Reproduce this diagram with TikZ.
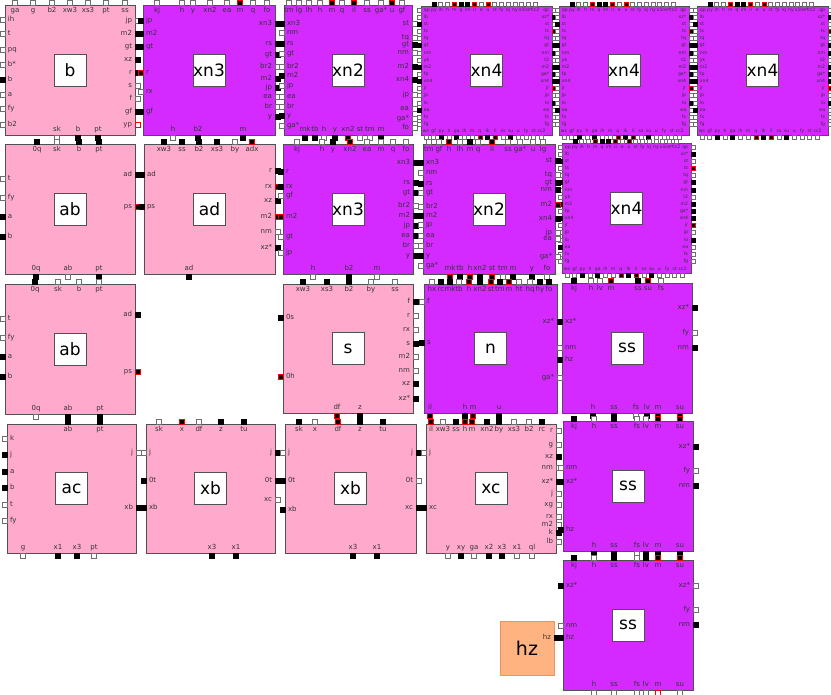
\documentclass[tikz,border=0pt]{standalone}
\usepackage{fontspec}
\setmainfont{DejaVu Sans}
\definecolor{pinkc}{RGB}{255,170,204}
\definecolor{purpc}{RGB}{212,42,255}
\definecolor{hzc}{RGB}{255,179,128}
\definecolor{hzbord}{RGB}{230,150,100}
\definecolor{bordc}{RGB}{80,80,80}
\definecolor{sqg}{RGB}{110,110,110}
\newcounter{pcnt}
\def\sqs{5}
\newcommand\portLx[4]{\stepcounter{pcnt}%
  \filldraw[sq#4] ({#1-\sqs},{#2-\sqs/2}) rectangle ++(\sqs,\sqs);%
  \node[plab,anchor=west] (p\arabic{pcnt}) at ({#1+2.5},{#2}) {#3};}
\newcommand\portRx[4]{\stepcounter{pcnt}%
  \filldraw[sq#4] ({#1},{#2-\sqs/2}) rectangle ++(\sqs,\sqs);%
  \node[plab,anchor=east] (p\arabic{pcnt}) at ({#1-2.5},{#2}) {#3};}
\newcommand\portTx[4]{\stepcounter{pcnt}%
  \filldraw[sq#4] ({#2-\sqs/2},{#1-\sqs}) rectangle ++(\sqs,\sqs);%
  \node[plab,anchor=north] (p\arabic{pcnt}) at ({#2},{#1+1.5}) {#3};}
\newcommand\portBx[4]{\stepcounter{pcnt}%
  \filldraw[sq#4] ({#2-\sqs/2},{#1}) rectangle ++(\sqs,\sqs);%
  \node[plab,anchor=south] (p\arabic{pcnt}) at ({#2},{#1-1.5}) {#3};}
\newcommand\portL[4]{\edef\tmpP{\noexpand\portLx{#1}{#2}{#3}{#4}}\tmpP}
\newcommand\portR[4]{\edef\tmpP{\noexpand\portRx{#1}{#2}{#3}{#4}}\tmpP}
\newcommand\portT[4]{\edef\tmpP{\noexpand\portTx{#1}{#2}{#3}{#4}}\tmpP}
\newcommand\portB[4]{\edef\tmpP{\noexpand\portBx{#1}{#2}{#3}{#4}}\tmpP}
\newcommand\mkblk[7]{%
  \node[blk, fill=#6, minimum width={#4-#2}, minimum height={#5-#3}] (#1) at (#2,#3) {};
  \node[lbox] (#1l) at (#1.center) {#7};}
\newcommand\xnfour[4]{%
\begin{scope}[plab/.style={font=\fontsize{4.6}{4.6}\selectfont, inner sep=0.2pt, text height=3.4pt, text depth=1pt, text=black!80}]
\def\sqs{4}%
\foreach \la/\ca [count=\i from 0] in {py/k,ih/w,h/w,m/R,q/k,im/k,il/R,e/w,u/R,st/w,fy/w,kj/w,ny/w,x1/w,ne*/w,cc2/w}{\portT{#2}{#1+13+6.75*\i}{\la}{\ca}}
\foreach \la/\ca [count=\i from 0] in {qp/w,lb/w,st/k,ts/w,tq/w,gt/k,nm/w,yk/w,m2/k,fp/w,xn4/k,jr/w,jp/w,lo/w,ea/k,fx/w,fg/w}{\portL{#1}{#2+4+7.15*\i}{\la}{\ca}}
\foreach \la/\ca [count=\i from 0] in {qp/w,xz*/k,st/w,ts/R,tq/w,gt/k,nm/k,t2/w,m2/k,ga*/k,xn4/k,jr/R,jp/w,lo/k,ea/w,fx/w,fg/w}{\portR{#3}{#2+4+7.15*\i}{\la}{\ca}}
\foreach \la/\ca [count=\i from 0] in {ws/w,gf/w,py/k,h/w,ga/k,ih/w,m/w,q/R,lk/k,il/R,ss/w,su/k,u/w,fy/w,st/w,cc2/w}{\portB{#4}{#1+5+7.7*\i}{\la}{\ca}}
\end{scope}}
\begin{document}
\begin{tikzpicture}[x=1pt,y=-1pt,
  plab/.style={font=\fontsize{7}{7}\selectfont, inner sep=0.3pt, text height=5.2pt, text depth=1.5pt, text=black!80},
  sqw/.style={fill=white, draw=sqg, line width=0.7pt},
  sqk/.style={fill=black, draw=black, line width=0.7pt},
  sqr/.style={fill=white, draw=red, line width=0.7pt},
  sqR/.style={fill=black, draw=red, line width=0.7pt},
  blk/.style={draw=bordc, line width=0.8pt, inner sep=0pt, outer sep=0pt, anchor=north west},
  lbox/.style={draw=bordc, fill=white, line width=0.8pt, minimum size=32, inner sep=0pt, font=\fontsize{17}{17}\selectfont}]
\useasboundingbox (0,0) rectangle (831,695);
% ---------------- blocks
\mkblk{B1}{5}{5}{135}{135}{pinkc}{b}
\mkblk{B2}{143}{5}{275}{135}{purpc}{xn3}
\mkblk{B3}{284}{5}{412}{135}{purpc}{xn2}
\mkblk{B4}{421}{6}{552}{135}{purpc}{xn4}
\mkblk{B5}{559}{6}{689}{135}{purpc}{xn4}
\mkblk{B6}{697}{6}{828}{135}{purpc}{xn4}
\mkblk{B7}{5}{144}{135}{274}{pinkc}{ab}
\mkblk{B8}{144}{144}{275}{274}{pinkc}{ad}
\mkblk{B9}{283}{144}{413}{274}{purpc}{xn3}
\mkblk{B10}{423}{144}{555}{274}{purpc}{xn2}
\mkblk{B11}{562}{143}{691}{273}{purpc}{xn4}
\mkblk{B12}{5}{284}{135}{414}{pinkc}{ab}
\mkblk{B13}{283}{284}{413}{413}{pinkc}{s}
\mkblk{B14}{424}{284}{557}{413}{purpc}{n}
\mkblk{B15}{562}{283}{692}{413}{purpc}{ss}
\mkblk{B16}{7}{424}{136}{553}{pinkc}{ac}
\mkblk{B17}{146}{424}{275}{553}{pinkc}{xb}
\mkblk{B18}{285}{424}{416}{553}{pinkc}{xb}
\mkblk{B19}{426}{424}{556}{553}{pinkc}{xc}
\mkblk{B20}{563}{421}{693}{551}{purpc}{ss}
\mkblk{B21}{563}{560}{693}{690}{purpc}{ss}
\node[blk, draw=hzbord, fill=hzc, minimum width=54, minimum height=54] (B22) at (500,621) {};
\node[font=\fontsize{19}{19}\selectfont, inner sep=0pt] (B22l) at (B22.center) {hz};
% ---------------- B1 b
\foreach \xa/\la/\ca in {15/ga/w,33/g/w,52/b2/w,70/xw3/w,88/xs3/w,106/pt/w,125/ss/w}{\portT{5}{\xa}{\la}{\ca}}
\foreach \ya/\la/\ca in {20/ih/w,34/t/w,50/pq/w,65/b*/w,80/b/k,95/a/w,109/fy/w,125/b2/w}{\portL{5}{\ya}{\la}{\ca}}
\foreach \ya/\la/\ca in {21/jp/w,34/m2/k,47/gt/k,60/xz/k,73/r/k,86/s/w,99/f/w,112/gf/k,125/yp/r}{\portR{135}{\ya}{\la}{\ca}}
\foreach \xa/\la/\ca in {57/sk/w,78/b/k,98/pt/k}{\portB{135}{\xa}{\la}{\ca}}
% ---------------- B2 xn3
\foreach \xa/\la/\ca in {157/kj/w,182/h/w,193/y/w,210/xn2/w,227/ea/w,240/m/R,253/q/w,267/fo/w}{\portT{5}{\xa}{\la}{\ca}}
\foreach \ya/\la/\ca in {21/jp/k,34/m2/k,47/gt/k,73/r/R,92/rx/w,112/gf/k}{\portL{143}{\ya}{\la}{\ca}}
\foreach \ya/\la/\ca in {24/xn3/k,44/rs/k,55/gt/k,67/br2/w,79/m2/k,88/jp/k,97/ea/w,107/br/w,117/y/k}{\portR{275}{\ya}{\la}{\ca}}
\foreach \xa/\la/\ca in {173/h/w,198/b2/k,243/m/k}{\portB{135}{\xa}{\la}{\ca}}
% ---------------- B3 xn2
\foreach \xa/\la/\ca in {289/tm/w,299/lg/w,309/lh/w,320/h/w,332/m/R,342/q/w,354/il/R,367/ss/w,381/ga*/w,392/u/R,402/gf/w}{\portT{5}{\xa}{\la}{\ca}}
\foreach \ya/\la/\ca in {24/xn3/k,33/nm/w,44/rs/k,54/gt/w,67/br2/w,76/m2/k,86/jp/w,97/ea/w,107/br/w,116/y/k,126/ga*/w}{\portL{284}{\ya}{\la}{\ca}}
\foreach \ya/\la/\ca in {24/st/w,38/tq/w,45/gt/k,53/nm/w,67/m2/k,80/xn4/k,95/jp/w,109/ea/w,119/ga*/w,128/fo/w}{\portR{412}{\ya}{\la}{\ca}}
\foreach \xa/\la/\ca in {305/mk/k,315/tb/k,324/h/w,335/y/k,348/xn2/R,360/st/w,370/tm/w,381/m/k}{\portB{135}{\xa}{\la}{\ca}}
% ---------------- xn4 blocks
\xnfour{421}{6}{552}{135}
\xnfour{559}{6}{689}{135}
\xnfour{697}{6}{828}{135}
\xnfour{562}{143}{691}{273}
% ---------------- B7 ab
\foreach \xa/\la/\ca in {37/0q/k,57/sk/w,79/b/k,99/pt/k}{\portT{144}{\xa}{\la}{\ca}}
\foreach \ya/\la/\ca in {179/t/w,198/fy/w,217/a/k,237/b/k}{\portL{5}{\ya}{\la}{\ca}}
\foreach \ya/\la/\ca in {175/ad/k,207/ps/R}{\portR{135}{\ya}{\la}{\ca}}
\foreach \xa/\la/\ca in {36/0q/k,68/ab/w,99/pt/k}{\portB{274}{\xa}{\la}{\ca}}
% ---------------- B8 ad
\foreach \xa/\la/\ca in {164/xw3/k,182/ss/k,199/b2/k,217/xs3/k,235/by/w,252/adx/R}{\portT{144}{\xa}{\la}{\ca}}
\foreach \ya/\la/\ca in {175/ad/k,207/ps/k}{\portL{144}{\ya}{\la}{\ca}}
\foreach \ya/\la/\ca in {171/r/k,187/rx/R,201/xz/k,217/m2/R,232/nm/w,248/xz*/k}{\portR{275}{\ya}{\la}{\ca}}
\foreach \xa/\la/\ca in {189/ad/k}{\portB{274}{\xa}{\la}{\ca}}
% ---------------- B9 xn3
\foreach \xa/\la/\ca in {297/kj/w,322/h/w,333/y/k,350/xn2/R,367/ea/w,381/m/w,393/q/w,406/fo/w}{\portT{144}{\xa}{\la}{\ca}}
\foreach \ya/\la/\ca in {172/r/k,187/rx/k,196/gf/w,217/m2/R,237/gt/w,253/jp/w}{\portL{283}{\ya}{\la}{\ca}}
\foreach \ya/\la/\ca in {163/xn3/k,183/rs/k,193/gt/k,206/br2/w,216/m2/k,226/jp/k,236/ea/k,246/br/w,256/y/k}{\portR{413}{\ya}{\la}{\ca}}
\foreach \xa/\la/\ca in {313/h/w,349/b2/k,377/m/w}{\portB{274}{\xa}{\la}{\ca}}
% ---------------- B10 xn2
\foreach \xa/\la/\ca in {429/tm/w,439/gf/w,449/h/R,460/lh/w,470/m/k,478/q/w,492/il/R,508/ss/w,520/ga*/w,533/u/w,543/lg/w}{\portT{144}{\xa}{\la}{\ca}}
\foreach \ya/\la/\ca in {163/xn3/k,173/nm/w,184/rs/k,193/gt/w,207/br2/w,216/m2/k,225/jp/w,236/ea/w,246/br/w,256/y/k,266/ga*/w}{\portL{423}{\ya}{\la}{\ca}}
\foreach \ya/\la/\ca in {161/st/k,175/tq/w,183/gt/k,190/nm/k,205/m2/R,219/xn4/k,233/jp/w,239/ea/w,257/ga*/w}{\portR{555}{\ya}{\la}{\ca}}
\foreach \xa/\la/\ca in {450/mk/R,460/tb/k,470/h/R,480/xn2/k,492/st/R,503/tm/w,513/m/k,532/y/k,547/fo/w}{\portB{274}{\xa}{\la}{\ca}}
% ---------------- B12 ab
\foreach \xa/\la/\ca in {35/0q/k,58/sk/w,79/b/w,99/pt/w}{\portT{284}{\xa}{\la}{\ca}}
\foreach \ya/\la/\ca in {319/t/w,338/fy/w,357/a/k,377/b/k}{\portL{5}{\ya}{\la}{\ca}}
\foreach \ya/\la/\ca in {315/ad/k,372/ps/R}{\portR{135}{\ya}{\la}{\ca}}
\foreach \xa/\la/\ca in {36/0q/w,68/ab/k,100/pt/k}{\portB{414}{\xa}{\la}{\ca}}
% ---------------- B13 s
\foreach \xa/\la/\ca in {303/xw3/k,327/xs3/k,349/b2/k,371/by/w,395/ss/w}{\portT{284}{\xa}{\la}{\ca}}
\foreach \ya/\la/\ca in {318/0s/k,377/0h/R}{\portL{283}{\ya}{\la}{\ca}}
\foreach \ya/\la/\ca in {302/f/k,316/r/w,330/rx/w,344/s/k,357/m2/w,371/nm/w,384/xz/k,399/xz*/k}{\portR{413}{\ya}{\la}{\ca}}
\foreach \xa/\la/\ca in {337/df/R,360/z/k}{\portB{413}{\xa}{\la}{\ca}}
% ---------------- B14 n
\foreach \xa/\la/\ca in {432/hx/w,441/rc/k,450/mk/k,459/tb/w,469/h/R,480/xn2/k,491/st/R,500/tm/k,509/m/R,519/ht/w,530/hq/w,540/hy/k,549/fo/k}{\portT{284}{\xa}{\la}{\ca}}
\foreach \ya/\la/\ca in {302/f/w,343/s/k}{\portL{424}{\ya}{\la}{\ca}}
\foreach \ya/\la/\ca in {322/xz*/k,378/ga*/w}{\portR{557}{\ya}{\la}{\ca}}
\foreach \xa/\la/\ca in {430/il/R,465/h/k,473/m/R,499/u/k}{\portB{413}{\xa}{\la}{\ca}}
% ---------------- B15 ss
\foreach \xa/\la/\ca in {574/kj/k,591/h/w,600/lv/w,611/m/R,638/ss/k,648/su/R,661/fs/w}{\portT{283}{\xa}{\la}{\ca}}
\foreach \ya/\la/\ca in {322/xz*/k,348/nm/w,360/hz/k}{\portL{562}{\ya}{\la}{\ca}}
\foreach \ya/\la/\ca in {308/xz*/k,333/fy/w,348/nm/k}{\portR{692}{\ya}{\la}{\ca}}
\foreach \xa/\la/\ca in {593/h/k,614/ss/k,636/fs/w,647/lv/k,658/m/R,680/su/R}{\portB{413}{\xa}{\la}{\ca}}
% ---------------- B16 ac
\foreach \xa/\la/\ca in {68/ab/k,100/pt/k}{\portT{424}{\xa}{\la}{\ca}}
\foreach \ya/\la/\ca in {439/k/w,455/j/k,472/a/k,488/b/k,505/t/w,521/fy/w}{\portL{7}{\ya}{\la}{\ca}}
\foreach \ya/\la/\ca in {453/j/w,508/xb/k}{\portR{136}{\ya}{\la}{\ca}}
\foreach \xa/\la/\ca in {23/g/w,58/x1/k,77/x3/k,94/pt/w}{\portB{553}{\xa}{\la}{\ca}}
% ---------------- B17 xb
\foreach \xa/\la/\ca in {159/sk/w,182/x/R,199/df/w,221/z/k,244/tu/k}{\portT{424}{\xa}{\la}{\ca}}
\foreach \ya/\la/\ca in {453/j/w,481/0t/k,508/xb/k}{\portL{146}{\ya}{\la}{\ca}}
\foreach \ya/\la/\ca in {453/j/k,481/0t/k,500/xc/w}{\portR{275}{\ya}{\la}{\ca}}
\foreach \xa/\la/\ca in {212/x3/k,236/x1/k}{\portB{553}{\xa}{\la}{\ca}}
% ---------------- B18 xb
\foreach \xa/\la/\ca in {299/sk/k,315/x/w,338/df/R,360/z/k,383/tu/k}{\portT{424}{\xa}{\la}{\ca}}
\foreach \ya/\la/\ca in {453/j/w,481/0t/k,510/xb/k}{\portL{285}{\ya}{\la}{\ca}}
\foreach \ya/\la/\ca in {453/j/k,481/0t/w,508/xc/k}{\portR{416}{\ya}{\la}{\ca}}
\foreach \xa/\la/\ca in {353/x3/k,377/x1/k}{\portB{553}{\xa}{\la}{\ca}}
% ---------------- B19 xc
\foreach \xa/\la/\ca in {431/il/R,443/xw3/w,456/ss/k,465/h/R,472/m/R,487/xn2/k,499/by/k,514/xs3/w,529/b2/w,542/rc/k}{\portT{424}{\xa}{\la}{\ca}}
\foreach \ya/\la/\ca in {453/j/w,508/xc/k}{\portL{426}{\ya}{\la}{\ca}}
\foreach \ya/\la/\ca in {431/r/w,445/g/w,457/xz/k,468/nm/w,482/xz*/k,494/j/w,505/xg/w,517/rx/w,525/m2/w,533/k/k,542/lb/w}{\portR{556}{\ya}{\la}{\ca}}
\foreach \xa/\la/\ca in {448/y/w,461/xy/k,474/ga/w,489/x2/k,502/x3/k,517/x1/w,532/ql/w}{\portB{553}{\xa}{\la}{\ca}}
% ---------------- B20 ss
\foreach \xa/\la/\ca in {574/kj/k,594/h/w,614/ss/k,637/fs/w,646/lv/w,658/m/R,680/su/R}{\portT{421}{\xa}{\la}{\ca}}
\foreach \ya/\la/\ca in {468/nm/w,482/xz*/k,530/hz/k}{\portL{563}{\ya}{\la}{\ca}}
\foreach \ya/\la/\ca in {447/xz*/k,471/fy/w,486/nm/k}{\portR{693}{\ya}{\la}{\ca}}
\foreach \xa/\la/\ca in {594/h/k,614/ss/k,637/fs/w,646/lv/k,658/m/k,680/su/k}{\portB{551}{\xa}{\la}{\ca}}
% ---------------- B21 ss
\foreach \xa/\la/\ca in {574/kj/k,594/h/w,614/ss/k,637/fs/w,646/lv/k,658/m/R,680/su/R}{\portT{560}{\xa}{\la}{\ca}}
\foreach \ya/\la/\ca in {586/xz*/k,626/nm/w,638/hz/k}{\portL{563}{\ya}{\la}{\ca}}
\foreach \ya/\la/\ca in {586/xz*/w,610/fy/w,625/nm/k}{\portR{693}{\ya}{\la}{\ca}}
\foreach \xa/\la/\ca in {594/h/w,614/ss/w,637/fs/w,646/lv/w,658/m/r,680/su/w}{\portB{690}{\xa}{\la}{\ca}}
% ---------------- B22 hz
\portR{554}{638}{hz}{k}
\end{tikzpicture}
\end{document}
